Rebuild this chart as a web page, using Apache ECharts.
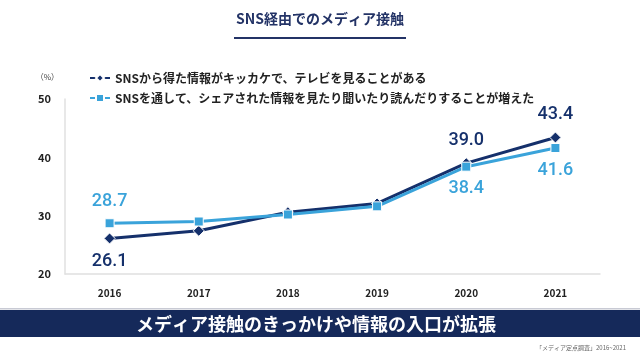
<!DOCTYPE html>
<html><head><meta charset="utf-8">
<script src="https://cdn.jsdelivr.net/npm/echarts@6/dist/echarts.min.js"></script>
<style>html,body{margin:0;padding:0;background:#fff}#c{width:640px;height:360px}</style>
</head><body><div id="c"></div>
<script>
const categories = ['2016','2017','2018','2019','2020','2021'];
const seriesNames = ['SNSから得た情報がキッカケで、テレビを見ることがある','SNSを通して、シェアされた情報を見たり聞いたり読んだりすることが増えた'];
const tvValues = [26.1, 27.4, 30.6, 32.1, 39.0, 43.4];
const shareValues = [28.7, 29.0, 30.2, 31.6, 38.4, 41.6];
const labeledIdx = [0, 4, 5];
const yTicks = [20, 30, 40, 50];
const titleText = 'SNS経由でのメディア接触';
const bannerText = 'メディア接触のきっかけや情報の入口が拡張';
const sourceText = '「メディア定点調査」2016~2021';

const FONT = '"Noto Sans CJK JP", "Noto Sans", sans-serif';
const NAVY = '#15306b';
const LIGHT = '#3aa3da';

function mkData(vals, pos) {
  return vals.map((v, i) => labeledIdx.includes(i)
    ? {value: v, label: {show: true, position: pos[labeledIdx.indexOf(i)]}}
    : v);
}

const chart = echarts.init(document.getElementById('c'), null, {renderer: 'canvas'});
chart.setOption({
  animation: false,
  textStyle: {fontFamily: FONT},
  grid: {left: 65, right: 40, top: 99, bottom: 86},
  legend: {
    orient: 'vertical', left: 84, top: 67, itemGap: 8,
    itemWidth: 20, itemHeight: 10,
    textStyle: {fontFamily: FONT, fontSize: 12, fontWeight: 'bold', color: '#222'},
    data: seriesNames
  },
  xAxis: {
    type: 'category', data: categories, boundaryGap: true,
    axisLine: {lineStyle: {color: '#e0e0e0', width: 1.5}},
    axisTick: {show: false},
    axisLabel: {fontFamily: FONT, fontSize: 10, fontWeight: 'bold', color: '#222', margin: 14}
  },
  yAxis: {
    type: 'value', min: yTicks[0], max: yTicks[yTicks.length - 1], interval: 10,
    name: '（%）', nameLocation: 'end', nameGap: 18,
    nameTextStyle: {fontFamily: FONT, fontSize: 8, color: '#444', align: 'right', padding: [0, 6, 0, 0]},
    axisLine: {show: true, lineStyle: {color: '#e0e0e0', width: 1.5}},
    axisTick: {show: false},
    splitLine: {show: false},
    axisLabel: {fontFamily: FONT, fontSize: 11, fontWeight: 'bold', color: '#222', margin: 14}
  },
  series: [
    {
      name: seriesNames[0], type: 'line', data: mkData(tvValues, ['bottom', 'top', 'top']),
      symbol: 'diamond', symbolSize: 11,
      lineStyle: {color: NAVY, width: 3},
      itemStyle: {color: NAVY, borderColor: '#fff', borderWidth: 1},
      label: {show: false, fontFamily: 'Roboto, "Noto Sans", sans-serif', fontSize: 18, fontWeight: 500, color: NAVY, distance: 8, formatter: p => p.value.toFixed(1)},
      z: 2
    },
    {
      name: seriesNames[1], type: 'line', data: mkData(shareValues, ['top', 'bottom', 'bottom']),
      symbol: 'rect', symbolSize: 9,
      lineStyle: {color: LIGHT, width: 3},
      itemStyle: {color: LIGHT, borderColor: '#fff', borderWidth: 1},
      label: {show: false, fontFamily: 'Roboto, "Noto Sans", sans-serif', fontSize: 18, fontWeight: 500, color: LIGHT, distance: 8, formatter: p => p.value.toFixed(1)},
      z: 3
    }
  ],
  graphic: [
    {type: 'text', left: 'center', top: 12, style: {text: titleText, font: 'bold 14px ' + FONT, fill: '#233366'}},
    {type: 'rect', shape: {x: 234, y: 37, width: 172, height: 2}, style: {fill: '#233366'}},
    {type: 'rect', shape: {x: 0, y: 308, width: 640, height: 1.5}, style: {fill: '#c8cad4'}},
    {type: 'rect', shape: {x: 0, y: 310, width: 640, height: 27}, style: {fill: '#15295a'}},
    {type: 'text', x: 316, y: 324, style: {text: bannerText, font: 'bold 18px ' + FONT, fill: '#fff', textAlign: 'center', textVerticalAlign: 'middle'}},
    {type: 'text', x: 626, y: 348, style: {text: sourceText, font: '6px ' + FONT, fill: '#666', textAlign: 'right', textVerticalAlign: 'middle'}}
  ]
});
</script></body></html>
